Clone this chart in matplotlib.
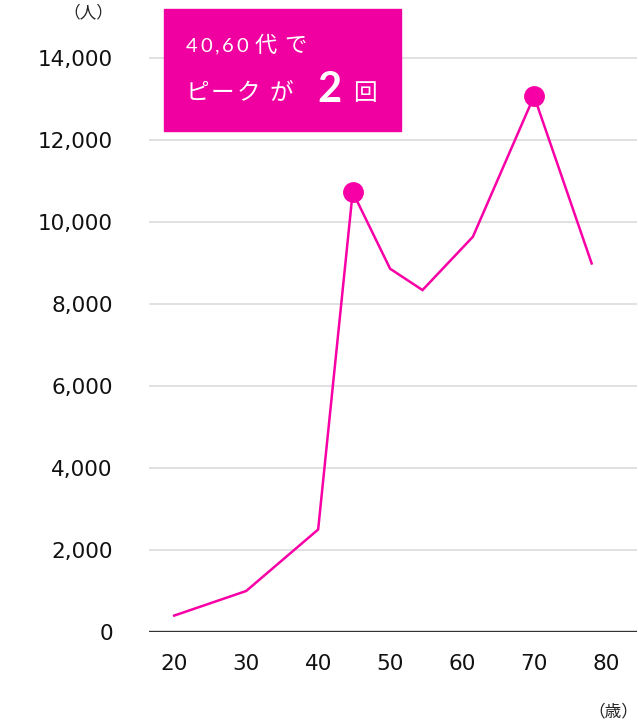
import matplotlib.pyplot as plt
from matplotlib.patches import Rectangle
from matplotlib.ticker import FuncFormatter

W, H = 638, 720
dpi = 100
fig = plt.figure(figsize=(W / dpi, H / dpi), dpi=dpi)

JP = ['Noto Sans CJK JP', 'DejaVu Sans']
NUM = ['Lato', 'DejaVu Sans']
PINK = '#f700a6'

# data
ages = [20, 30, 40, 44.8, 50, 54.5, 61.5, 70, 78]
people = [400, 1000, 2500, 10730, 8860, 8340, 9640, 13070, 8990]
peak_ages = [44.8, 70]
peak_people = [10730, 13070]
x_ticks = [20, 30, 40, 50, 60, 70, 80]
y_ticks = [0, 2000, 4000, 6000, 8000, 10000, 12000, 14000]


def fx(x):
    return x / W


def fy(y):
    return 1 - y / H


ax = fig.add_axes([fx(149), 88 / H, 488 / W, 615 / H])
ax.set_xlim(16.5, 84.3)
ax.set_ylim(0, 15000)

for v in y_ticks[1:]:
    ax.axhline(v, color='#dedede', lw=1.3, zorder=1)
ax.axhline(0, color='#333333', lw=2.4, zorder=2)

ax.plot(ages, people, color=PINK, lw=1.8, zorder=3, solid_joinstyle='miter')
ax.plot(peak_ages, peak_people, 'o', color=PINK, ms=14, zorder=4)

for s in ax.spines.values():
    s.set_visible(False)
ax.set_xticks(x_ticks)
ax.set_yticks(y_ticks)
ax.yaxis.set_major_formatter(FuncFormatter(lambda v, p: f'{int(v):,}'))
ax.tick_params(length=0)
ax.tick_params(axis='y', pad=26)
ax.tick_params(axis='x', pad=16)
for lab in ax.get_xticklabels() + ax.get_yticklabels():
    lab.set_family('DejaVu Sans')
    lab.set_fontsize(15.5)
    lab.set_color('#111111')

fig.text(fx(113), fy(13), '（人）', family=JP, fontsize=12, ha='right', va='center', color='#222222')
fig.text(fx(638), fy(712), '（歳）', family=JP, fontsize=12, ha='right', va='center', color='#222222')

# callout box
fig.patches.append(Rectangle((fx(164), fy(131)), (401 - 164) / W, (131 - 9) / H,
                             transform=fig.transFigure, color='#f000a0', zorder=5))


def put(chars, xs, y, **kw):
    for ch, x in zip(chars, xs):
        fig.text(fx(x), fy(y), ch, ha='center', va='center',
                 color='white', zorder=6, **kw)


put('40,60', [192, 206.5, 217.5, 228, 242.5], 46, family=NUM, fontsize=14.5)
put('代で', [266, 295], 45.5, family=JP, fontsize=16)
put('ピークが', [197, 222, 248, 281], 93.5, family=JP, fontsize=17)
put('2', [329], 90.5, family=NUM, fontsize=30, fontweight='bold')
put('回', [365], 93.5, family=JP, fontsize=17)

fig.savefig('out.png', dpi=dpi)
